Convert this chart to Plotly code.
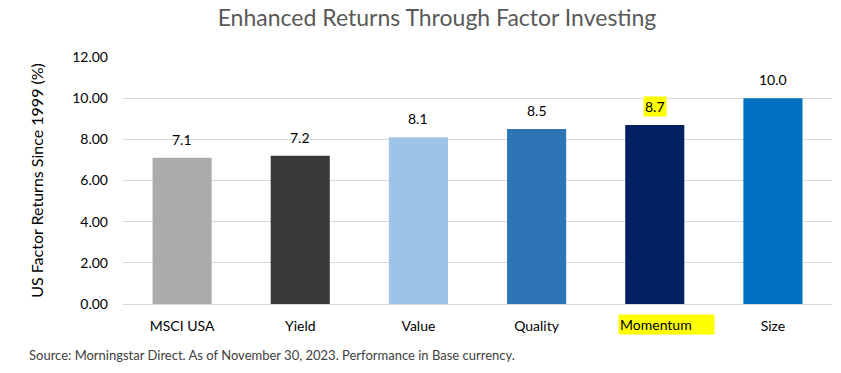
import plotly.graph_objects as go

categories = ["MSCI USA", "Yield", "Value", "Quality", "Momentum", "Size"]
returns = [7.1, 7.2, 8.1, 8.5, 8.7, 10.0]
bar_colors = ["#ADAAAA", "#3B3838", "#9DC3E6", "#2E75B6", "#002060", "#0070C0"]
highlighted = ["Momentum"]
y_ticks = [0, 2, 4, 6, 8, 10, 12]

FONT = "Lato, 'Open Sans', sans-serif"

fig = go.Figure()
fig.add_trace(go.Bar(
    x=categories, y=returns, marker=dict(color=bar_colors, line=dict(width=0)),
    width=0.5, showlegend=False, hoverinfo="skip",
))

annotations = []
for c, v in zip(categories, returns):
    hl = c in highlighted
    annotations.append(dict(
        x=c, y=v, xref="x", yref="y", text=f"{v:.1f}", showarrow=False,
        yanchor="bottom", yshift=8, font=dict(family=FONT, size=14, color="#000000"),
        bgcolor="#FFFF00" if hl else "rgba(0,0,0,0)", borderpad=1,
    ))
    if hl:
        annotations.append(dict(
            x=c, y=0, xref="x", yref="paper", text=c + "      ", showarrow=False,
            yanchor="top", yshift=-10, xshift=12, font=dict(family=FONT, size=14, color="#000000"),
            bgcolor="#FFFF00", borderpad=1,
        ))

W, H = 841, 373
ml, mr, mt, mb = 123, 9, 57, 69
pw, ph = W - ml - mr, H - mt - mb

annotations.append(dict(
    x=(27 - ml) / pw, y=(H - mb - 355) / ph, xref="paper", yref="paper",
    text="Source: Morningstar Direct. As of November 30, 2023. Performance in Base currency.",
    showarrow=False, xanchor="left", yanchor="middle",
    font=dict(family=FONT, size=13, color="#404040"),
))

ticktext = ["" if c in highlighted else c for c in categories]

fig.update_layout(
    width=W, height=H,
    margin=dict(l=ml, r=mr, t=mt, b=mb),
    paper_bgcolor="white", plot_bgcolor="white",
    title=dict(text="Enhanced Returns Through Factor Investing", x=437 / W, xanchor="center",
               y=1 - 18 / H, yanchor="middle",
               font=dict(family=FONT, size=23, color="#595959")),
    xaxis=dict(tickmode="array", tickvals=categories, ticktext=ticktext,
               tickfont=dict(family=FONT, size=14, color="#000000"),
               showgrid=False, showline=False, ticks="", ticklabelstandoff=12),
    yaxis=dict(range=[0, 12], tickvals=y_ticks, tickformat=".2f",
               tickfont=dict(family=FONT, size=14, color="#000000"),
               showgrid=True, gridcolor="#D9D9D9", gridwidth=1,
               zeroline=True, zerolinecolor="#D9D9D9", zerolinewidth=1,
               ticks="", ticklabelstandoff=14,
               title=dict(text="US Factor Returns Since 1999 (%)", standoff=24,
                          font=dict(family=FONT, size=16, color="#000000"))),
    annotations=annotations,
    bargap=0.5,
)

fig.write_html("out.html", config={"displayModeBar": False},
               post_script="document.body.style.margin='0';document.body.style.overflow='hidden';")
